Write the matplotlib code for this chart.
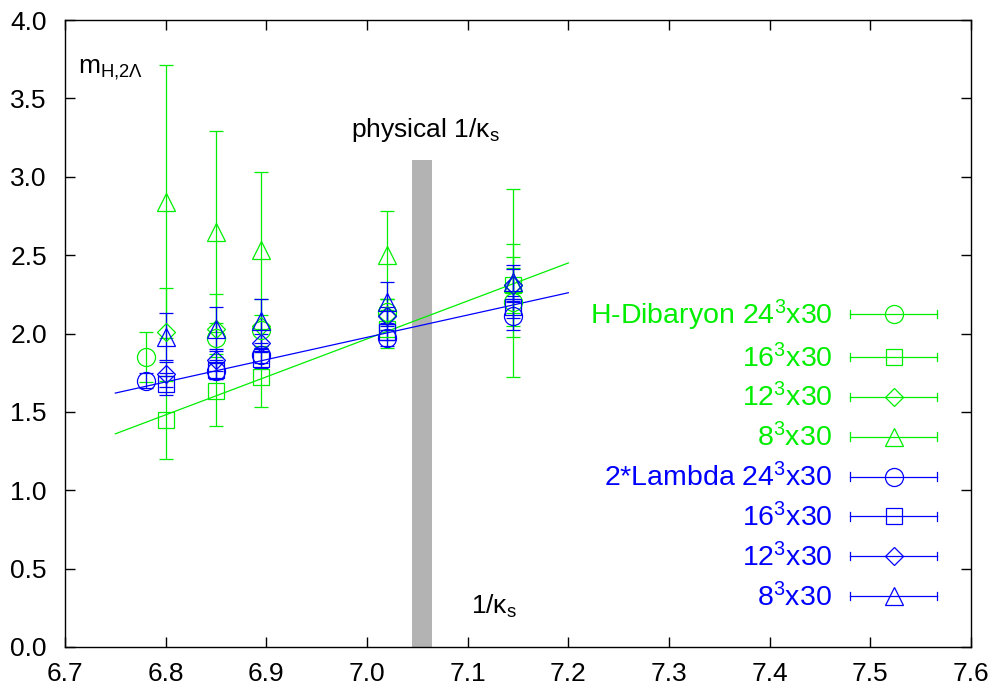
import matplotlib
matplotlib.use("Agg")
import matplotlib.pyplot as plt
from matplotlib.lines import Line2D
from matplotlib.legend_handler import HandlerBase
from matplotlib.container import ErrorbarContainer

plt.rcParams['font.family'] = ['Liberation Sans', 'DejaVu Sans']
plt.rcParams['mathtext.fontset'] = 'custom'
plt.rcParams['mathtext.rm'] = 'Liberation Sans'
plt.rcParams['mathtext.it'] = 'Liberation Sans:italic'

GREEN = '#00ee00'
BLUE = '#0000ff'

# 1/kappa_s values
x_24 = [6.78, 6.85, 6.895, 7.02, 7.145]
x_rest = [6.80, 6.85, 6.895, 7.02, 7.145]

# H-Dibaryon (green)
h24_y = [1.85, 1.97, 2.02, 2.14, 2.20]
h24_e = [0.16, 0.10, 0.10, 0.08, 0.22]
h16_y = [1.45, 1.63, 1.72, 2.03, 2.31]
h16_e = [0.25, 0.22, 0.19, 0.12, 0.26]
h12_y = [2.01, 2.03, 2.05, 2.12, 2.31]
h12_e = [0.28, 0.22, 0.17, 0.10, 0.18]
h8_y = [2.84, 2.65, 2.53, 2.50, 2.32]
h8_e = [0.87, 0.64, 0.50, 0.28, 0.60]

# 2*Lambda (blue)
l24_y = [1.70, 1.76, 1.86, 1.97, 2.11]
l24_e = [0.05, 0.05, 0.05, 0.05, 0.09]
l16_y = [1.68, 1.77, 1.84, 2.01, 2.17]
l16_e = [0.07, 0.06, 0.06, 0.05, 0.07]
l12_y = [1.74, 1.83, 1.94, 2.11, 2.31]
l12_e = [0.08, 0.07, 0.06, 0.06, 0.10]
l8_y = [1.98, 2.03, 2.08, 2.20, 2.33]
l8_e = [0.15, 0.14, 0.14, 0.13, 0.11]

# linear fits (endpoints)
fit_x = [6.75, 7.2]
fit_h = [1.36, 2.45]
fit_l = [1.62, 2.26]

# physical point band
phys_x0, phys_x1 = 7.045, 7.065
phys_top = 3.11

labels = ['H-Dibaryon 24$\\mathregular{^3}$x30', '16$\\mathregular{^3}$x30',
          '12$\\mathregular{^3}$x30', '8$\\mathregular{^3}$x30',
          '2*Lambda 24$\\mathregular{^3}$x30', '16$\\mathregular{^3}$x30',
          '12$\\mathregular{^3}$x30', '8$\\mathregular{^3}$x30']

FS = 19


class HErrHandler(HandlerBase):
    # gnuplot style key sample: horizontal bar with caps and marker in the middle
    def create_artists(self, legend, orig_handle, xdescent, ydescent,
                       width, height, fontsize, trans):
        ln = orig_handle[0]
        c = ln.get_color()
        y = height / 2 - ydescent
        x0, x1 = -xdescent, width - xdescent
        cap = 3.0
        arts = [
            Line2D([x0, x1], [y, y], color=c, lw=0.9),
            Line2D([x0, x0], [y - cap, y + cap], color=c, lw=0.9),
            Line2D([x1, x1], [y - cap, y + cap], color=c, lw=0.9),
            Line2D([(x0 + x1) / 2], [y], marker=ln.get_marker(),
                   markersize=ln.get_markersize(), mfc='none', mec=c,
                   mew=0.9, ls='none'),
        ]
        for a in arts:
            a.set_transform(trans)
        return arts


fig = plt.figure(figsize=(9.95, 6.93), dpi=100)
ax = fig.add_axes([65 / 995, 46 / 693, 906 / 995, 627 / 693])

ax.bar((phys_x0 + phys_x1) / 2, phys_top, width=phys_x1 - phys_x0,
       color='#b3b3b3', zorder=1)

ax.plot(fit_x, fit_h, color=GREEN, lw=0.9, zorder=2)
ax.plot(fit_x, fit_l, color=BLUE, lw=0.9, zorder=2)

series = [
    (x_24, h24_y, h24_e, 'o', 13, GREEN),
    (x_rest, h16_y, h16_e, 's', 12, GREEN),
    (x_rest, h12_y, h12_e, 'D', 9.5, GREEN),
    (x_rest, h8_y, h8_e, '^', 13, GREEN),
    (x_24, l24_y, l24_e, 'o', 13, BLUE),
    (x_rest, l16_y, l16_e, 's', 12, BLUE),
    (x_rest, l12_y, l12_e, 'D', 9.5, BLUE),
    (x_rest, l8_y, l8_e, '^', 13, BLUE),
]
handles = []
for (xs, ys, es, mk, ms, col), lab in zip(series, labels):
    h = ax.errorbar(xs, ys, yerr=es, fmt=mk, ms=ms, mfc='none', mec=col,
                    mew=0.9, color=col, ecolor=col, elinewidth=0.9,
                    capsize=5, capthick=0.9, label=lab, zorder=3)
    handles.append(h)

leg = ax.legend(handles=handles, handler_map={ErrorbarContainer: HErrHandler()},
                loc='upper right', bbox_to_anchor=(0.9625, 0.557), frameon=False,
                markerfirst=False, fontsize=20.5, handlelength=3.05,
                handletextpad=0.63, labelspacing=0.375, borderpad=0,
                borderaxespad=0)
for t, (_, _, _, _, _, col) in zip(leg.get_texts(), series):
    t.set_color(col)

ax.text(6.713, 3.68, 'm$_\\mathregular{H{,}2\\Lambda}$', fontsize=FS,
        va='center', ha='left')
ax.text(6.984, 3.30, 'physical 1/$\\mathregular{\\kappa_s}$', fontsize=FS,
        va='center', ha='left')
ax.text(7.103, 0.26, '1/$\\mathregular{\\kappa_s}$', fontsize=FS,
        va='center', ha='left')

ax.set_xlim(6.7, 7.6)
ax.set_ylim(0.0, 4.0)
ax.set_xticks([6.7, 6.8, 6.9, 7.0, 7.1, 7.2, 7.3, 7.4, 7.5, 7.6])
ax.set_yticks([0.0, 0.5, 1.0, 1.5, 2.0, 2.5, 3.0, 3.5, 4.0])
ax.xaxis.set_major_formatter(matplotlib.ticker.FormatStrFormatter('%.1f'))
ax.yaxis.set_major_formatter(matplotlib.ticker.FormatStrFormatter('%.1f'))
ax.tick_params(direction='in', length=7, width=1, top=True, right=True,
               labelsize=FS)
ax.tick_params(axis='x', pad=11)
ax.tick_params(axis='y', pad=13)
for s in ax.spines.values():
    s.set_linewidth(1)

fig.savefig('out.png', dpi=100)
